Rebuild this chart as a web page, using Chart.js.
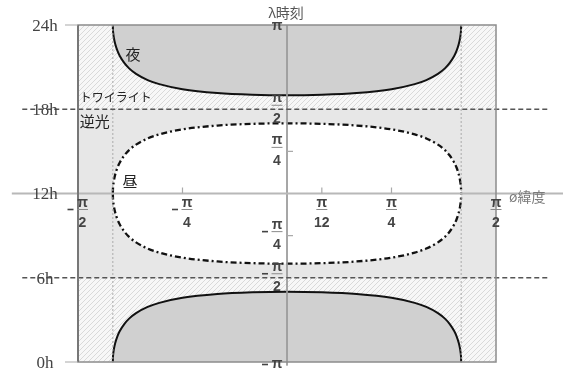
<!DOCTYPE html>
<html>
<head>
<meta charset="utf-8">
<script src="https://cdn.jsdelivr.net/npm/chart.js@4.4.1/dist/chart.umd.min.js"></script>
<style>
  html, body { margin: 0; padding: 0; background: #fff; }
  #wrap { width: 563px; height: 372px; position: relative; }
</style>
</head>
<body>
<div id="wrap"><canvas id="chart"></canvas></div>
<script>
// Latitude φ (degrees) at which the boundary curves are sampled
const latitudes = [-75, -74.95, -74.8, -74.5, -74, -73, -72, -70, -68, -65, -60, -55, -45, -30, -15, 0,
                   15, 30, 45, 55, 60, 65, 68, 70, 72, 73, 74, 74.5, 74.8, 74.95, 75];
// Night boundary, evening side (local time, hours)
const nightEvening = [24, 23.69, 23.39, 23.04, 22.66, 22.15, 21.79, 21.28, 20.91, 20.52, 20.08, 19.79, 19.43, 19.16, 19.04, 19.00,
                      19.04, 19.16, 19.43, 19.79, 20.08, 20.52, 20.91, 21.28, 21.79, 22.15, 22.66, 23.04, 23.39, 23.69, 24];
// Night boundary, morning side
const nightMorning = [0, 0.31, 0.61, 0.96, 1.34, 1.85, 2.21, 2.72, 3.09, 3.48, 3.92, 4.21, 4.57, 4.84, 4.96, 5.00,
                      4.96, 4.84, 4.57, 4.21, 3.92, 3.48, 3.09, 2.72, 2.21, 1.85, 1.34, 0.96, 0.61, 0.31, 0];
// Daytime boundary, afternoon side
const dayAfternoon = [12, 12.31, 12.61, 12.96, 13.34, 13.85, 14.21, 14.72, 15.09, 15.48, 15.92, 16.21, 16.57, 16.84, 16.96, 17.00,
                      16.96, 16.84, 16.57, 16.21, 15.92, 15.48, 15.09, 14.72, 14.21, 13.85, 13.34, 12.96, 12.61, 12.31, 12];
// Daytime boundary, morning side
const dayMorning = [12, 11.69, 11.39, 11.04, 10.66, 10.15, 9.79, 9.28, 8.91, 8.52, 8.08, 7.79, 7.43, 7.16, 7.04, 7.00,
                    7.04, 7.16, 7.43, 7.79, 8.08, 8.52, 8.91, 9.28, 9.79, 10.15, 10.66, 11.04, 11.39, 11.69, 12];

// Polar limit of the sampled curves
const polarLatitude = 75;
// Twilight band limits (hours)
const twilightEvening = 18;
const twilightMorning = 6;

// Latitude ticks: value, sign, denominator of π/n
const latTickValues = [-90, -45, 15, 45, 90];
const latTickSigns  = ['-', '-', '', '', ''];
const latTickDens   = ['2', '4', '12', '4', '2'];

// Time ticks in radians (value in hours)
const radTickValues = [24, 18, 15, 9, 6, 0];
const radTickSigns  = ['', '', '', '-', '-', '-'];
const radTickDens   = ['', '2', '4', '4', '2', ''];

// Clock-hour labels on the left
const hourTickValues = [24, 18, 12, 6, 0];
const hourTickLabels = ['24h', '18h', '12h', '6h', '0h'];

// Region names
const regionNames = ['夜', 'トワイライト', '逆光', '昼'];
const regionLat   = [-66.3, -89.2, -89.2, -67.6];
const regionTime  = [21.93, 18.87, 17.17, 12.9];

const pts = ys => latitudes.map((x, i) => ({ x, y: ys[i] }));

// diagonal hatching for twilight
const hatch = (() => {
  const c = document.createElement('canvas');
  c.width = 5; c.height = 5;
  const g = c.getContext('2d');
  g.fillStyle = '#f7f7f7'; g.fillRect(0, 0, 5, 5);
  g.strokeStyle = '#d9d9d9'; g.lineWidth = 1;
  g.beginPath();
  g.moveTo(-1, 6); g.lineTo(6, -1);
  g.moveTo(-1, 1); g.lineTo(1, -1);
  g.moveTo(4, 6); g.lineTo(6, 4);
  g.stroke();
  return g.createPattern(c, 'repeat');
})();

const backdrop = {
  id: 'backdrop',
  beforeDatasetsDraw(chart) {
    const { ctx, chartArea: a } = chart;
    ctx.save();
    ctx.fillStyle = '#e7e7e7';
    ctx.fillRect(a.left, a.top, a.right - a.left, a.bottom - a.top);
    ctx.restore();
  }
};

const annotations = {
  id: 'annotations',
  afterDraw(chart) {
    const { ctx, chartArea: a } = chart;
    const xs = chart.scales.x, ys = chart.scales.y;
    const X = v => xs.getPixelForValue(v), Y = v => ys.getPixelForValue(v);
    const ax = X(0), ay = Y(12);
    ctx.save();

    // frame
    ctx.strokeStyle = '#8c8c8c'; ctx.lineWidth = 1.5;
    ctx.strokeRect(a.left, a.top, a.right - a.left, a.bottom - a.top);
    ctx.strokeStyle = '#777'; ctx.lineWidth = 2;
    ctx.beginPath(); ctx.moveTo(a.left, a.top); ctx.lineTo(a.left, a.bottom); ctx.stroke();

    // small tick marks
    ctx.strokeStyle = '#aaa'; ctx.lineWidth = 1.2;
    ctx.beginPath();
    [-45, 15, 45].forEach(v => { ctx.moveTo(X(v), ay - 6); ctx.lineTo(X(v), ay); });
    [15, 9].forEach(v => { ctx.moveTo(ax, Y(v)); ctx.lineTo(ax + 6, Y(v)); });
    [24, 0].forEach(v => { ctx.moveTo(a.left - 13, Y(v)); ctx.lineTo(a.left, Y(v)); });
    ctx.stroke();

    // π/n fraction
    const pi = 'π';
    const fracFont = 'bold 14px "Liberation Sans", Arial, sans-serif';
    function fraction(cx, base, sign, den) {
      ctx.font = fracFont;
      ctx.fillStyle = '#444';
      ctx.textAlign = 'center';
      ctx.textBaseline = 'alphabetic';
      ctx.fillText(pi, cx, base);
      if (den) {
        ctx.strokeStyle = '#8a8a8a'; ctx.lineWidth = 1;
        ctx.beginPath(); ctx.moveTo(cx - 5.5, base + 3); ctx.lineTo(cx + 5.5, base + 3); ctx.stroke();
        ctx.fillText(den, cx, base + 20.5);
      }
      if (sign) {
        const my = den ? base + 3 : base - 3.5;
        ctx.strokeStyle = '#444'; ctx.lineWidth = 1.6;
        ctx.beginPath(); ctx.moveTo(cx - 15, my); ctx.lineTo(cx - 9, my); ctx.stroke();
      }
    }
    latTickValues.forEach((v, i) => {
      const shift = latTickSigns[i] ? 4.5 : 0;
      fraction(X(v) + shift, ay + 13, latTickSigns[i], latTickDens[i]);
    });
    radTickValues.forEach((v, i) => {
      const base = radTickDens[i] ? Y(v) - 7 : (v > 12 ? Y(v) + 5 : Y(v) + 6);
      fraction(ax - 10, base, radTickSigns[i], radTickDens[i]);
    });

    // clock hours
    ctx.font = '17px "Liberation Serif", "Times New Roman", serif';
    ctx.fillStyle = '#444';
    ctx.textAlign = 'center';
    ctx.textBaseline = 'alphabetic';
    hourTickValues.forEach((v, i) => ctx.fillText(hourTickLabels[i], a.left - 33, Y(v) + 5.8));

    // axis titles
    ctx.font = '14px "Noto Sans CJK JP", sans-serif';
    ctx.fillStyle = '#555';
    ctx.textAlign = 'center';
    ctx.fillText('λ時刻', ax - 1, a.top - 7);
    ctx.fillStyle = '#7a7a7a';
    ctx.textAlign = 'left';
    ctx.fillText('ø緯度', a.right + 13, ay + 8);

    // region names
    ctx.fillStyle = '#222';
    const sizes = [15, 12, 15, 15];
    regionNames.forEach((t, i) => {
      ctx.font = sizes[i] + 'px "Noto Sans CJK JP", sans-serif';
      ctx.textAlign = i === 1 || i === 2 ? 'left' : 'center';
      ctx.textBaseline = 'middle';
      ctx.fillText(t, X(regionLat[i]), Y(regionTime[i]));
    });
    ctx.restore();
  }
};

const curve = { cubicInterpolationMode: 'monotone', pointRadius: 0 };

new Chart(document.getElementById('chart'), {
  type: 'line',
  data: {
    datasets: [
      { label: '18h', data: [{ x: -114, y: twilightEvening }, { x: 113, y: twilightEvening }],
        borderColor: '#555', borderWidth: 1.5, borderDash: [5, 3], clip: false, order: 1 },
      { label: '6h', data: [{ x: -114, y: twilightMorning }, { x: 113, y: twilightMorning }],
        borderColor: '#555', borderWidth: 1.5, borderDash: [5, 3], clip: false, order: 1 },
      { label: 'ø', data: [{ x: -118.5, y: 12 }, { x: 119, y: 12 }],
        borderColor: '#b8b8b8', borderWidth: 2, clip: false, order: 2 },
      { label: 'λ', data: [{ x: 0, y: 24 }, { x: 0, y: -0.25 }],
        borderColor: '#9a9a9a', borderWidth: 1, clip: false, order: 2 },
      { label: 'polar W', data: [{ x: -polarLatitude, y: 24 }, { x: -polarLatitude, y: -0.2 }],
        borderColor: '#aaa', borderWidth: 1, borderDash: [2, 2], clip: false, order: 3 },
      { label: 'polar E', data: [{ x: polarLatitude, y: 24 }, { x: polarLatitude, y: -0.2 }],
        borderColor: '#aaa', borderWidth: 1, borderDash: [2, 2], clip: false, order: 3 },
      { label: '昼 PM', data: pts(dayAfternoon), ...curve, fill: { value: 12 },
        backgroundColor: '#ffffff', borderColor: '#111', borderWidth: 2.3, borderDash: [6, 3, 2, 3], order: 4 },
      { label: '昼 AM', data: pts(dayMorning), ...curve, fill: { value: 12 },
        backgroundColor: '#ffffff', borderColor: '#111', borderWidth: 2.3, borderDash: [6, 3, 2, 3], order: 4 },
      { label: '夜 PM', data: pts(nightEvening), ...curve, fill: 'end',
        backgroundColor: '#d0d0d0', borderColor: '#111', borderWidth: 2, order: 5 },
      { label: '夜 AM', data: pts(nightMorning), ...curve, fill: 'start',
        backgroundColor: '#d0d0d0', borderColor: '#111', borderWidth: 2, order: 5 },
      { label: 'トワイライト PM', data: [{ x: -90, y: twilightEvening }, { x: 90, y: twilightEvening }],
        fill: 'end', backgroundColor: hatch, borderWidth: 0, order: 6 },
      { label: 'トワイライト AM', data: [{ x: -90, y: twilightMorning }, { x: 90, y: twilightMorning }],
        fill: 'start', backgroundColor: hatch, borderWidth: 0, order: 6 }
    ]
  },
  options: {
    responsive: true,
    maintainAspectRatio: false,
    animation: false,
    layout: { padding: { left: 78, right: 67, top: 25, bottom: 10 } },
    elements: { point: { radius: 0 }, line: { borderCapStyle: 'butt' } },
    plugins: { legend: { display: false }, tooltip: { enabled: false } },
    scales: {
      x: { type: 'linear', min: -90, max: 90, display: false },
      y: { type: 'linear', min: 0, max: 24, display: false }
    }
  },
  plugins: [backdrop, annotations]
});
</script>
</body>
</html>
